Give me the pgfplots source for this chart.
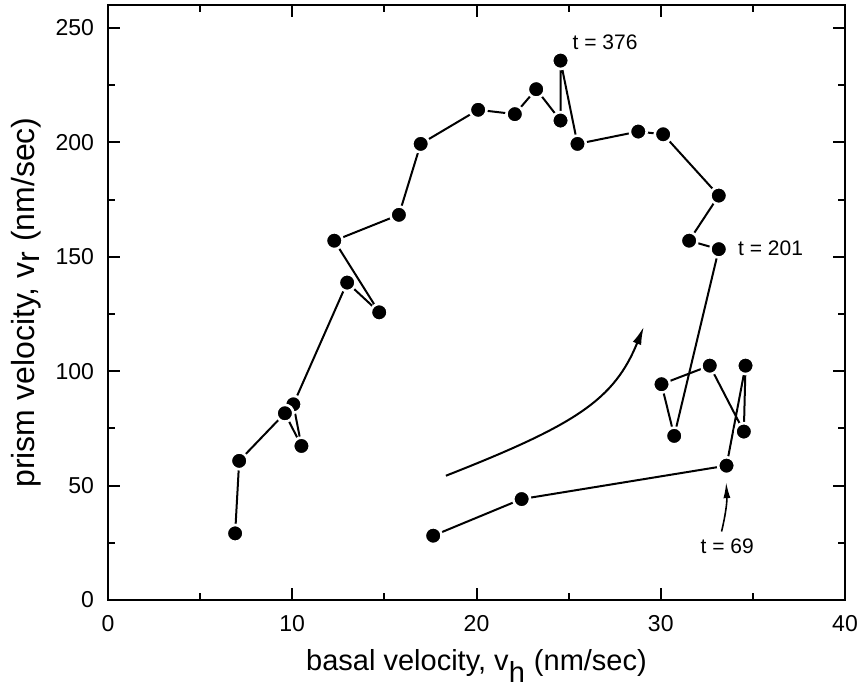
\documentclass[border=0pt]{standalone}
\usepackage{fontspec}
\setmainfont{Liberation Sans}
\usepackage{pgfplots}
\pgfplotsset{compat=1.18}
\usetikzlibrary{arrows.meta}
\begin{document}
\begin{tikzpicture}
\begin{axis}[
  scale only axis,
  width=368.5pt, height=297.5pt,
  xmin=0, xmax=40, ymin=0, ymax=260,
  xtick={0,10,20,30,40}, ytick={0,50,100,150,200,250},
  minor xtick={5,15,25,35}, minor ytick={25,75,125,175,225},
  tick align=inside, tick pos=both,
  major tick length=6pt, minor tick length=3.5pt,
  every tick/.style={line width=1pt, black},
  axis line style={line width=1.1pt},
  /pgf/number format/assume math mode=true,
  ticklabel style={font=\fontsize{11.5pt}{13pt}\selectfont},
  xticklabel style={yshift=-4pt},
  yticklabel style={xshift=-3.5pt},
  xlabel={basal velocity, v$_{\textrm{h}}$ (nm/sec)},
  ylabel={prism velocity, v$_{\textrm{r}}$ (nm/sec)},
  xlabel style={font=\fontsize{14.5pt}{17pt}\selectfont, at={(axis description cs:0.5,-0.1193)}, anchor=base},
  ylabel style={font=\fontsize{16pt}{19pt}\selectfont, at={(axis description cs:-0.100,0.5)}, anchor=base},
  clip=false,
]
\addplot[black, line width=1pt, mark=*, mark size=4.2pt,
  mark options={fill=black, draw=white, line width=1.3pt}] coordinates {
  (17.65,28.1) (22.45,44.1) (33.57,58.7) (34.60,102.4) (34.51,73.6)
  (32.66,102.4) (30.04,94.3) (30.73,71.7) (33.15,153.3) (31.54,157.0)
  (33.15,176.7) (30.13,203.5) (28.78,204.7) (25.48,199.3) (24.56,235.7)
  (24.56,209.5) (23.24,223.2) (22.08,212.3) (20.09,214.2) (16.97,199.3)
  (15.79,168.3) (12.28,157.0) (14.72,125.7) (12.98,138.7) (10.06,85.5)
  (10.50,67.3) (9.60,81.6) (7.12,60.8) (6.90,29.1)
};
\node[anchor=west, inner sep=0pt, font=\fontsize{10.5pt}{12pt}\selectfont] at (axis cs:25.2,243.9) {t = 376};
\node[anchor=west, inner sep=0pt, font=\fontsize{10.5pt}{12pt}\selectfont] at (axis cs:34.18,153.8) {t = 201};
\node[anchor=center, inner sep=0pt, font=\fontsize{10.5pt}{12pt}\selectfont] at (axis cs:33.61,23.3) {t = 69};
\draw[line width=0.8pt, -{Latex[length=8pt,width=3.5pt]}] (axis cs:33.3,29.9) to[bend right=8] (axis cs:33.55,51.5);
\draw[line width=1pt, -{Latex[length=9pt,width=4.5pt]}] (axis cs:18.34,54.3) .. controls (axis cs:25.39,76.6) and (axis cs:27.46,87.4) .. (axis cs:29.08,119.4);
\end{axis}
\pgfresetboundingbox
\path[use as bounding box] ([xshift=-54pt,yshift=-46.5pt]current axis.south west) rectangle ([xshift=8.5pt,yshift=2.5pt]current axis.north east);
\end{tikzpicture}
\end{document}
